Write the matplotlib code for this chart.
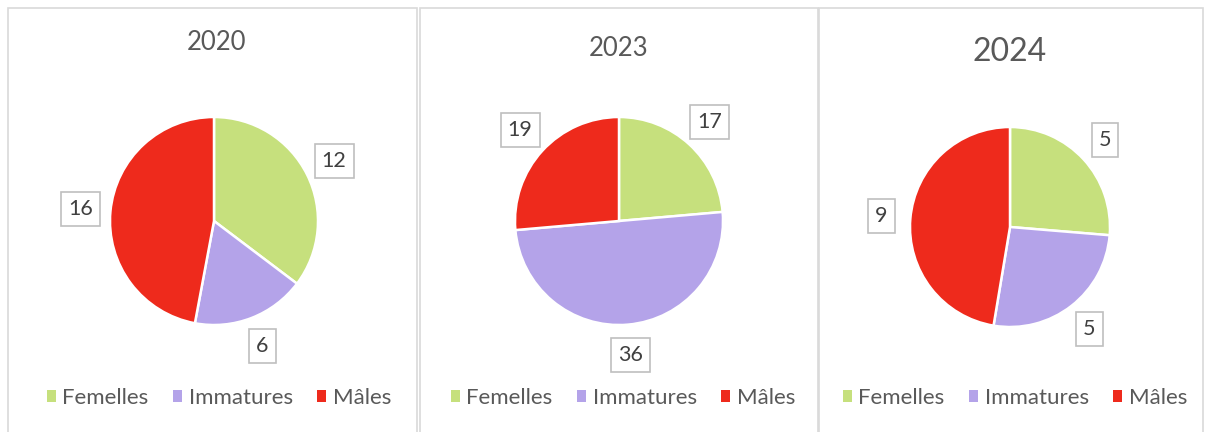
import matplotlib
matplotlib.use("Agg")
import matplotlib.pyplot as plt
from matplotlib.patches import Rectangle, Patch
from matplotlib.legend import Legend
import numpy as np

plt.rcParams['font.family'] = ['Lato', 'DejaVu Sans']

years = ["2020", "2023", "2024"]
categories = ["Femelles", "Immatures", "Mâles"]
femelles = [12, 17, 5]
immatures = [6, 36, 5]
males = [16, 19, 9]
colors = ["#c6e07d", "#b4a3e9", "#ee2a1c"]

W, H = 1206, 432
fig = plt.figure(figsize=(W / 100, H / 100), dpi=100)
ax = fig.add_axes([0, 0, 1, 1])

panels = [(8, 417), (420, 818), (819, 1203)]
centers = [(214, 221, 104), (619, 221, 104), (1010, 227, 100)]
title_y = [43, 48, 52]
title_size = [18.5, 18.5, 23]
legend_y = 398
legend_x = [219, 623, 1015]

for i in range(3):
    x0, x1 = panels[i]
    ax.add_patch(Rectangle((x0, -5), x1 - x0, H - 8 + 5, fill=False,
                           ec='#d9d9d9', lw=1.2, zorder=0))
    vals = [femelles[i], immatures[i], males[i]]
    cx, cy, r = centers[i]
    wedges, _ = ax.pie(vals, colors=colors, startangle=90, counterclock=False,
                       center=(cx, H - cy), radius=r, frame=False,
                       wedgeprops=dict(edgecolor='white', linewidth=1.8))
    for w, v in zip(wedges, vals):
        mid = np.deg2rad((w.theta1 + w.theta2) / 2)
        lx = cx + 1.29 * r * np.cos(mid)
        ly = H - cy + 1.29 * r * np.sin(mid)
        ax.text(lx, ly, str(v), ha='center', va='center', fontsize=15.5,
                color='#404040',
                bbox=dict(boxstyle='square,pad=0.33', fc='white',
                          ec='#bfbfbf', lw=1.2))
    ax.text(cx + (2 if i == 0 else 0), H - title_y[i], years[i],
            ha='center', va='center', fontsize=title_size[i], color='#595959')
    handles = [Patch(facecolor=c, edgecolor='none') for c in colors]
    leg = Legend(ax, handles, categories, loc='center', ncol=3, frameon=False,
                 bbox_to_anchor=(legend_x[i] / W, (H - legend_y) / H),
                 bbox_transform=fig.transFigure, fontsize=16,
                 handlelength=0.4, handleheight=0.4, handletextpad=0.3,
                 columnspacing=1.1, labelcolor='#595959')
    ax.add_artist(leg)

ax.set_xlim(0, W)
ax.set_ylim(0, H)
ax.set_aspect('auto')
ax.axis('off')

fig.savefig("out.png", dpi=100, facecolor='white')
